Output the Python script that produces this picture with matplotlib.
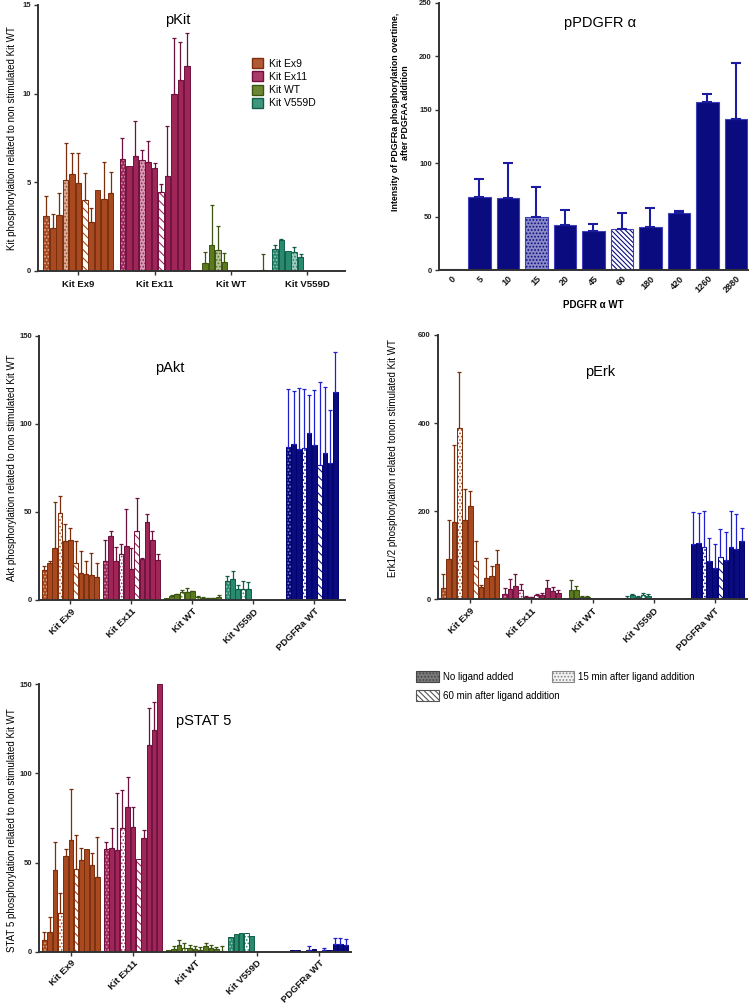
import numpy as np
import matplotlib
matplotlib.use('Agg')
import matplotlib.pyplot as plt
from matplotlib.patches import Patch
from matplotlib.colors import to_rgb

plt.rcParams['font.family'] = ['Liberation Sans', 'DejaVu Sans']
plt.rcParams['hatch.linewidth'] = 0.8

nan = np.nan

groups = ['Kit Ex9', 'Kit Ex11', 'Kit WT', 'Kit V559D', 'PDGFRa WT']
group_face = ['#A8491F', '#A02658', '#5B7A1E', '#2A8A6E', '#0B0B80']
group_edge = ['#7A2E0C', '#6E1040', '#3B5412', '#105E4A', '#00006E']
group_err = ['#7A2E0C', '#6E1040', '#3B5412', '#105E4A', '#2020D0']

# pKit (bar value, top of error bar)
kit_ex9 = [3.1, 2.43, 3.13, 5.11, 5.46, 4.95, 3.97, 2.75, 4.54, 4.03, 4.37]
kit_ex9_err = [4.24, 3.22, 4.37, 7.19, 6.67, 6.63, 5.5, 3.56, nan, 6.16, 5.57]
kit_ex11 = [6.29, 5.93, 6.46, 6.25, 6.16, 5.78, 4.43, 5.35, 9.98, 10.77, 11.54]
kit_ex11_err = [7.51, nan, 8.46, 6.84, 7.34, 6.1, 4.9, 8.19, 13.13, 12.9, 13.41]
kit_wt = [nan, 0.41, 1.45, 1.17, 0.47, nan, nan, nan, nan, nan, 0.06]
kit_wt_err = [nan, 1.05, 3.71, 2.5, 1.0, nan, nan, nan, nan, nan, 0.95]
kit_v559d = [1.2, 1.73, 1.11, 1.04, 0.77]
kit_v559d_err = [1.45, 1.79, nan, 1.34, 0.94]

# pPDGFR alpha time course
pdgf_times = ['0', '5', '10', '15', '20', '45', '60', '180', '420', '1260', '2880']
pdgf_vals = [1, 68, 67.3, 49.3, 42.4, 36.5, 38, 40.5, 53, 156.8, 141.2]
pdgf_err = [nan, 84.8, 99.8, 77.3, 56.1, 43.3, 53.6, 58, 55.2, 164.3, 194]

# pAkt
akt_ex9 = [17.0, 21.2, 29.3, 49.5, 33.6, 34.0, 20.8, 15.3, 14.7, 14.2, 13.0]
akt_ex9_err = [19.5, 22.3, 55.4, 59.0, 43.1, 41.0, 33.3, 28.0, 22.3, 26.5, 21.0]
akt_ex11 = [22.3, 36.5, 22.3, 25.9, 30.6, 17.4, 39.3, 23.1, 44.2, 34.0, 22.7]
akt_ex11_err = [34.0, 39.1, 29.9, 31.8, 51.6, 29.3, 58.0, 24.0, 49.0, 39.3, 26.1]
akt_wt = [1.0, 2.5, 3.2, 4.5, 4.7, 5.0, 1.8, 1.3, 1.0, 1.0, 1.5]
akt_wt_err = [nan, 2.8, 3.5, 5.5, 7.0, 5.3, 2.2, 1.5, 1.3, 1.2, 2.8]
akt_v559d = [10.5, 12.0, 6.0, 6.5, 6.0]
akt_v559d_err = [13.5, 16.5, 8.5, 11.0, 10.0]
akt_pdgfra = [86.6, 88.8, 85.6, 86.0, 94.5, 87.9, 76.6, 83.7, 78.0, 118.0]
akt_pdgfra_err = [119.7, 118.7, 120.2, 119.8, 116.4, 119.3, 123.8, 121.0, 108.1, 140.8]

# pErk
erk_ex9 = [26, 92, 176, 388, 180, 212, 88, 27, 49, 53, 80]
erk_ex9_err = [57, 180, 350, 515, 250, 245, 132, 32, 93, 75, 112]
erk_ex11 = [13, 24, 30, 20, 6, 5, 10, 10, 25, 18, 15]
erk_ex11_err = [25, 45, 58, 35, 8, 6, 12, 14, 44, 29, 22]
erk_wt = [2, 22, 22, 5, 5, 2, 2, 3, 3, 3, 2]
erk_wt_err = [nan, 44, 30, 7, 8, nan, nan, nan, nan, nan, nan]
erk_v559d = [4, 10, 5, 10, 8]
erk_v559d_err = [8, 12, 8, 14, 11]
erk_pdgfra = [2, 125, 127, 118, 87, 72, 95, 90, 118, 115, 133]
erk_pdgfra_err = [nan, 198, 197, 200, 140, 125, 160, 152, 200, 193, 162]

# pSTAT 5
stat_ex9 = [6.4, 10.8, 45.8, 21.9, 53.5, 62.7, 46.4, 51.4, 57.6, 48.6, 41.7]
stat_ex9_err = [10.8, 19.5, 61.3, 32.7, 57.4, 91.0, 65.5, 58.0, nan, 55.5, 64.1]
stat_ex11 = [57.6, 58.2, 57.2, 69.6, 81.4, 70.1, 51.8, 64.0, 116.0, 124.4, 150.0]
stat_ex11_err = [61.3, 69.2, 89.2, 90.7, 98.2, 81.4, nan, 68.3, 136.9, 140.3, nan]
stat_wt = [1.0, 1.5, 4.0, 2.0, 2.0, 1.5, 1.0, 3.0, 2.0, 1.5, 0.5]
stat_wt_err = [nan, 3.0, 6.5, 5.0, 4.0, 3.0, 2.5, 5.0, 4.0, 2.5, 3.0]
stat_v559d = [8.0, 10.0, 10.5, 10.5, 8.6]
stat_v559d_err = [nan, nan, nan, nan, nan]
stat_pdgfra = [1.0, 1.0, 0.5, 1.0, 1.5, 0.5, 1.0, 1.0, 4.5, 4.5, 4.0]
stat_pdgfra_err = [nan, nan, nan, 3.0, nan, nan, 2.0, nan, 7.5, 7.5, 7.0]


def blend(c, f=0.55):
    r = np.array(to_rgb(c))
    return tuple(r * (1 - f) + f)


def style(ax, ymax, ystep):
    for s in ['top', 'right']:
        ax.spines[s].set_visible(False)
    for s in ['left', 'bottom']:
        ax.spines[s].set_color('#333333')
        ax.spines[s].set_linewidth(1.4)
    ax.set_ylim(0, ymax)
    yt = np.arange(0, ymax + ystep / 2, ystep)
    ax.set_yticks(yt, [f'{int(t)}' for t in yt], fontweight='bold', fontsize=5.5)
    ax.tick_params(axis='y', length=3, width=1, pad=2, colors='#333333', labelcolor='#222222')
    ax.tick_params(axis='x', length=3, width=1, colors='#333333', labelcolor='#111111')


def draw_group(ax, x0, vals, errs, g, s15_light):
    face, edge, ecol = group_face[g], group_edge[g], group_err[g]
    light = blend(face)
    v = np.full(11, nan)
    v[:len(vals)] = vals
    e = np.full(11, nan)
    e[:len(errs)] = errs
    x = x0 + np.arange(11)
    w = 0.88
    ok = np.isfinite(v)
    plain = ok.copy()
    plain[[0, 3, 6]] = False
    ax.bar(x[plain], v[plain], w, color=face, edgecolor=edge, linewidth=0.7)
    specs = [(0, face, light, '.....'),
             (3, light if s15_light else 'white', face, '.....'),
             (6, 'white', face, '\\\\\\\\')]
    for i, fc, hc, h in specs:
        if ok[i]:
            ax.bar(x[i], v[i], w, color=fc, edgecolor=hc, hatch=h, linewidth=0)
            ax.bar(x[i], v[i], w, fill=False, edgecolor=edge, linewidth=0.7)
    m = ok & np.isfinite(e)
    if m.any():
        ax.errorbar(x[m], v[m], yerr=[np.zeros(m.sum()), e[m] - v[m]], fmt='none',
                    ecolor=ecol, elinewidth=0.9, capsize=1.2, capthick=0.9)


def grouped_panel(ax, data, gap, ymax, ystep, xlim, s15_light=False, rotate=True):
    pitch = 11 + gap
    centers = []
    for g, (vals, errs) in enumerate(data):
        draw_group(ax, g * pitch, vals, errs, g, s15_light)
        centers.append(g * pitch + 5)
    style(ax, ymax, ystep)
    ax.set_xlim(*xlim)
    if rotate:
        ax.set_xticks(centers, groups[:len(data)], rotation=45, ha='right',
                      rotation_mode='anchor', fontweight='bold', fontsize=6.8)
        ax.tick_params(axis='x', pad=2)
    else:
        ax.set_xticks(centers, groups[:len(data)], fontweight='bold', fontsize=6.8)
        ax.tick_params(axis='x', pad=3.5)


fig = plt.figure(figsize=(7.5, 10.06), dpi=100)

# pKit
ax1 = fig.add_axes([0.0507, 0.7309, 0.4093, 0.2642])
grouped_panel(ax1, [(kit_ex9, kit_ex9_err), (kit_ex11, kit_ex11_err),
                    (kit_wt, kit_wt_err), (kit_v559d, kit_v559d_err)],
              gap=0.86, ymax=15, ystep=5, xlim=(-1.28, 46.48), s15_light=True, rotate=False)
ax1.set_ylabel('Kit phosphorylation related to non stimulated Kit WT', fontsize=7)
ax1.yaxis.set_label_coords(-0.068, 0.5)
ax1.text(0.456, 0.944, 'pKit', transform=ax1.transAxes, ha='center', va='center', fontsize=10.5)
handles = [Patch(facecolor=blend(c, 0.1), edgecolor=e, linewidth=1) for c, e in zip(group_face[:4], group_edge[:4])]
ax1.legend(handles, groups[:4], loc='upper left', bbox_to_anchor=(0.336, 0.942),
           bbox_transform=fig.transFigure, frameon=False, fontsize=7.5, handlelength=1.1,
           handleheight=1.1, labelspacing=0.25, borderaxespad=0, borderpad=0, handletextpad=0.5)

# pPDGFR alpha
ax2 = fig.add_axes([0.5853, 0.7316, 0.4120, 0.2657])
px = np.arange(len(pdgf_times))
pv = np.array(pdgf_vals)
pe = np.array(pdgf_err)
navy = '#0B0B80'
special = {3: ('#8A8AC8', '.....'), 6: ('white', '\\\\\\\\\\\\\\')}
plain = [i for i in px if i not in special]
ax2.bar(px[plain], pv[plain], 0.78, color=navy, edgecolor='#4040B8', linewidth=0.8)
for i, (fc, h) in special.items():
    ax2.bar(px[i], pv[i], 0.78, color=fc, edgecolor=navy, hatch=h, linewidth=0)
    ax2.bar(px[i], pv[i], 0.78, fill=False, edgecolor='#4040B8', linewidth=0.8)
m = np.isfinite(pe)
ax2.errorbar(px[m], pv[m], yerr=[np.zeros(m.sum()), pe[m] - pv[m]], fmt='none',
             ecolor='#1C1CA0', elinewidth=1.5, capsize=3.5, capthick=1.5)
style(ax2, 250, 50)
ax2.set_xlim(-0.42, 10.42)
ax2.set_xticks(px, pdgf_times, rotation=45, ha='right', rotation_mode='anchor',
               fontweight='bold', fontsize=6.5)
ax2.tick_params(axis='x', pad=3, length=0)
ax2.set_xlabel('PDGFR α WT', fontweight='bold', fontsize=7, labelpad=4)
ax2.set_ylabel('Intensity of PDGFRa phosphorylation overtime,\nafter PDGFAA addition',
               fontsize=6.3, fontweight='bold')
ax2.yaxis.set_label_coords(-0.094, 0.59)
ax2.text(0.52, 0.925, 'pPDGFR α', transform=ax2.transAxes, ha='center', va='center', fontsize=10.5)

# pAkt
ax3 = fig.add_axes([0.052, 0.4036, 0.408, 0.2627])
grouped_panel(ax3, [(akt_ex9, akt_ex9_err), (akt_ex11, akt_ex11_err), (akt_wt, akt_wt_err),
                    (akt_v559d, akt_v559d_err), (akt_pdgfra, akt_pdgfra_err)],
              gap=0.67, ymax=150, ystep=50, xlim=(-1.02, 57.53))
ax3.set_ylabel('Akt phosphorylation related to non stimulated Kit WT', fontsize=7)
ax3.yaxis.set_label_coords(-0.072, 0.5)
ax3.text(0.428, 0.878, 'pAkt', transform=ax3.transAxes, ha='center', va='center', fontsize=10.5)

# pErk
ax4 = fig.add_axes([0.5836, 0.4043, 0.4124, 0.2627])
grouped_panel(ax4, [(erk_ex9, erk_ex9_err), (erk_ex11, erk_ex11_err), (erk_wt, erk_wt_err),
                    (erk_v559d, erk_v559d_err), (erk_pdgfra, erk_pdgfra_err)],
              gap=0.4, ymax=600, ystep=200, xlim=(-1.06, 56.6))
ax4.set_ylabel('Erk1/2 phosphorylation related tonon stimulated Kit WT', fontsize=7)
ax4.yaxis.set_label_coords(-0.128, 0.535)
ax4.text(0.525, 0.86, 'pErk', transform=ax4.transAxes, ha='center', va='center', fontsize=10.5)

# pSTAT 5
ax5 = fig.add_axes([0.052, 0.054, 0.416, 0.2658])
grouped_panel(ax5, [(stat_ex9, stat_ex9_err), (stat_ex11, stat_ex11_err), (stat_wt, stat_wt_err),
                    (stat_v559d, stat_v559d_err), (stat_pdgfra, stat_pdgfra_err)],
              gap=0.7, ymax=150, ystep=50, xlim=(-1.0, 57.8))
ax5.set_ylabel('STAT 5 phosphorylation related to non stimulated Kit WT', fontsize=7)
ax5.yaxis.set_label_coords(-0.07, 0.455)
ax5.text(0.529, 0.863, 'pSTAT 5', transform=ax5.transAxes, ha='center', va='center', fontsize=10.5)

# pattern legend
h_none = Patch(facecolor='#7A7A7A', edgecolor='#444444', hatch='.....', linewidth=0.8)
h_15 = Patch(facecolor='#F2F2F2', edgecolor='#888888', hatch='.....', linewidth=0.8)
h_60 = Patch(facecolor='white', edgecolor='#555555', hatch='\\\\\\\\\\\\', linewidth=0.8)
kw = dict(loc='upper left', frameon=False, fontsize=7, handlelength=2.3, handleheight=1.35,
          borderaxespad=0, borderpad=0, handletextpad=0.4)
fig.legend([h_none, h_15], ['No ligand added', '15 min after ligand addition'], ncol=2,
           columnspacing=4.0, bbox_to_anchor=(0.555, 0.333), **kw)
fig.legend([h_60], ['60 min after ligand addition'], bbox_to_anchor=(0.555, 0.314), **kw)

fig.savefig('out.png', dpi=100)
